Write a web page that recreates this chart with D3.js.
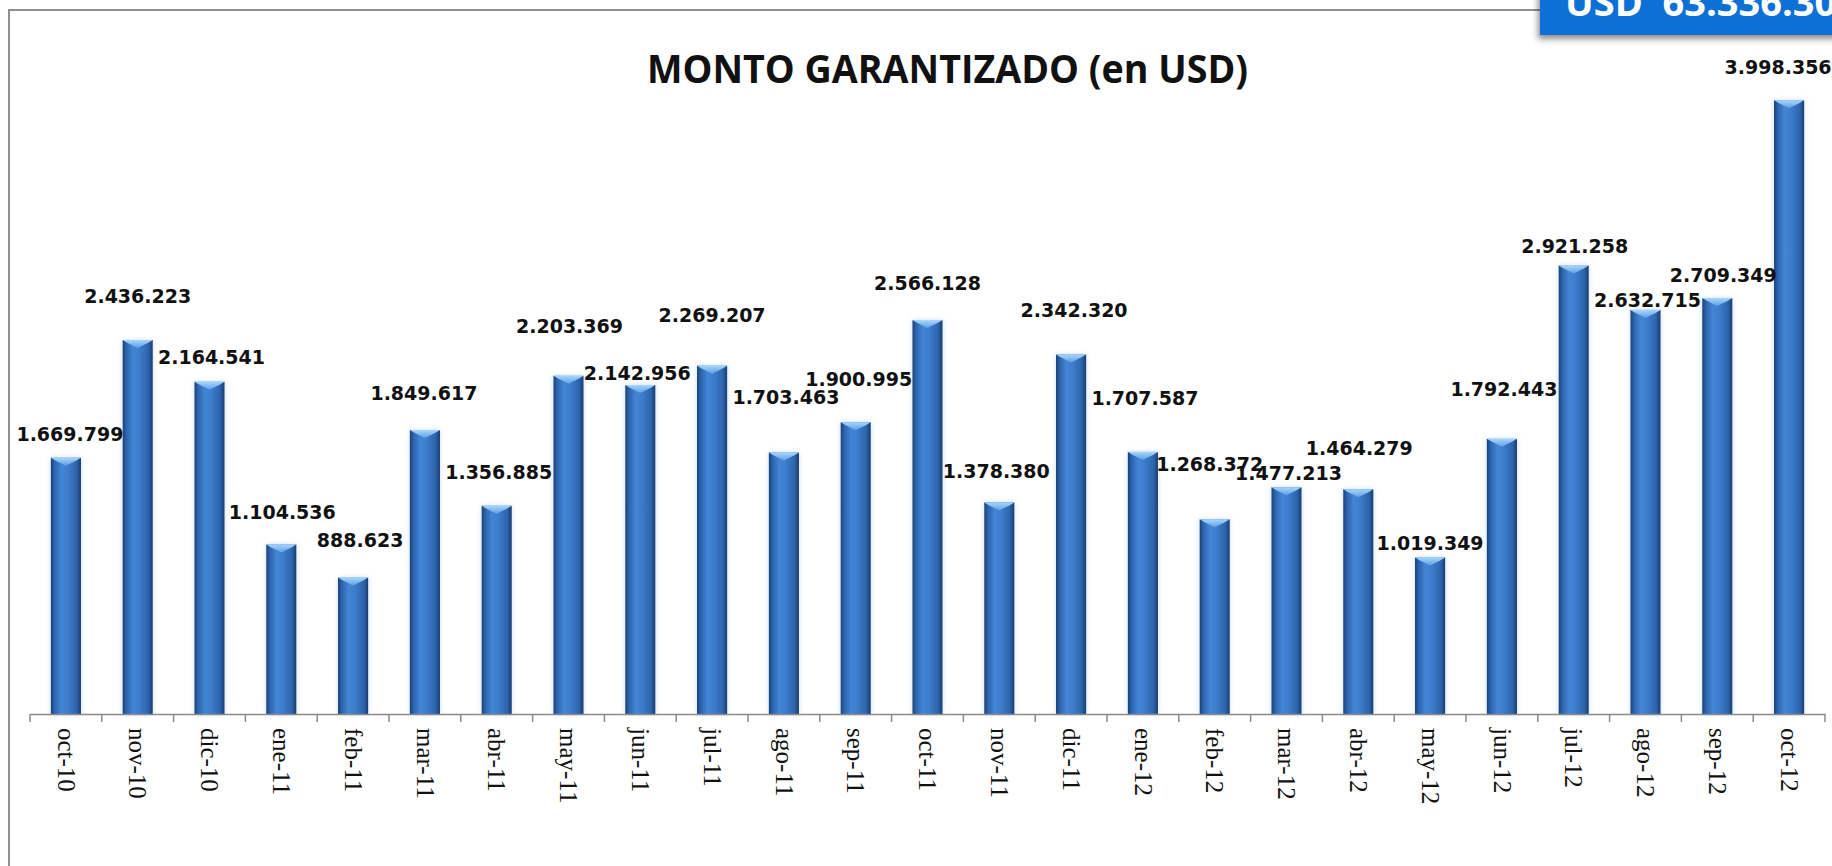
<!DOCTYPE html>
<html>
<head>
<meta charset="utf-8">
<script src="https://cdn.jsdelivr.net/npm/d3@7"></script>
<style>
  html, body { margin: 0; padding: 0; background: #fff; overflow: hidden; }
  svg { display: block; }
</style>
</head>
<body>
<figure id="bars" style="margin:0"></figure>
<script>
// months shown on the x axis
const months = ["oct-10", "nov-10", "dic-10", "ene-11", "feb-11", "mar-11", "abr-11", "may-11",
  "jun-11", "jul-11", "ago-11", "sep-11", "oct-11", "nov-11", "dic-11", "ene-12", "feb-12",
  "mar-12", "abr-12", "may-12", "jun-12", "jul-12", "ago-12", "sep-12", "oct-12"];

// guaranteed amount per month (USD)
const amounts = [1669799, 2436223, 2164541, 1104536, 888623, 1849617, 1356885, 2203369,
  2142956, 2269207, 1703463, 1900995, 2566128, 1378380, 2342320, 1707587, 1268372,
  1477213, 1464279, 1019349, 1792443, 2921258, 2632715, 2709349, 3998356];

// labels are hand placed in the original, offsets from the bar top (px)
const labelDx = [4, 0, 2, 1, 7, -1, 2, 1, -3, 0, 2, 3, 0, -3, 3, 2, -5, 2, 1, 0, 2, 1, 2, 6, -11];
const labelDy = [-24, -44, -25, -32, -37, -37, -34, -50, -12, -51, -55, -43, -37, -31, -44, -54,
  -55, -14, -41, -14, -50, -19, -10, -23, -33];

const title = "MONTO GARANTIZADO (en USD)";
const totalText = "USD  63.336.30";

const W = 1832, H = 866;
const baseY = 714;

const svg = d3.select("figure#bars")
  .append("svg")
  .attr("width", W)
  .attr("height", H);

const defs = svg.append("defs");
const grad = defs.append("linearGradient").attr("id", "barGrad")
  .attr("x1", "0%").attr("x2", "100%").attr("y1", "0%").attr("y2", "0%");
[["0%", "#1c3f72"], ["12%", "#2c63ad"], ["35%", "#4386d6"], ["55%", "#3d7dcc"],
 ["85%", "#2d64ad"], ["100%", "#1b3c6c"]].forEach(s => {
  grad.append("stop").attr("offset", s[0]).attr("stop-color", s[1]);
});
const capGrad = defs.append("linearGradient").attr("id", "capGrad")
  .attr("x1", "0%").attr("x2", "0%").attr("y1", "0%").attr("y2", "100%");
capGrad.append("stop").attr("offset", "0%").attr("stop-color", "#a9d6fb");
capGrad.append("stop").attr("offset", "100%").attr("stop-color", "#5d9fe6");

const glow = defs.append("filter").attr("id", "glow")
  .attr("x", "-30%").attr("y", "-10%").attr("width", "160%").attr("height", "120%");
glow.append("feGaussianBlur").attr("in", "SourceAlpha").attr("stdDeviation", 2.5).attr("result", "b");
glow.append("feFlood").attr("flood-color", "#9cc8f0").attr("flood-opacity", 0.6);
glow.append("feComposite").attr("in2", "b").attr("operator", "in").attr("result", "g");
const mg = glow.append("feMerge");
mg.append("feMergeNode").attr("in", "g");
mg.append("feMergeNode").attr("in", "SourceGraphic");

const shadow = defs.append("filter").attr("id", "boxShadow")
  .attr("x", "-10%").attr("y", "-20%").attr("width", "130%").attr("height", "180%");
shadow.append("feDropShadow").attr("dx", -2).attr("dy", 4).attr("stdDeviation", 3)
  .attr("flood-color", "#000").attr("flood-opacity", 0.45);

// chart frame (left and top edges visible)
svg.append("path")
  .attr("d", "M9,866 L9,10 L1540,10")
  .attr("fill", "none")
  .attr("stroke", "#8f8f8f")
  .attr("stroke-width", 2);

// scales
const x = d3.scaleBand()
  .domain(months)
  .range([30, 1825])
  .padding(0);

const y = d3.scaleLinear()
  .domain([0, 4000000])
  .range([baseY, 100]);

const barW = x.bandwidth() * 0.42;
const cx = d => x(d) + x.bandwidth() / 2;

// bars
const bars = svg.append("g");
bars.selectAll("rect")
  .data(months)
  .enter()
  .append("rect")
  .attr("x", d => cx(d) - barW / 2)
  .attr("y", (d, i) => y(amounts[i]))
  .attr("width", barW)
  .attr("height", (d, i) => baseY - y(amounts[i]))
  .attr("fill", "url(#barGrad)")
  .attr("filter", "url(#glow)");

// light bevel on top of each bar
bars.selectAll("path.cap")
  .data(months)
  .enter()
  .append("path")
  .attr("class", "cap")
  .attr("d", (d, i) => {
    const t = y(amounts[i]), l = cx(d) - barW / 2, r = cx(d) + barW / 2;
    return `M${l},${t} L${r},${t} L${r - 5},${t + 3} L${cx(d)},${t + 8} L${l + 5},${t + 3} Z`;
  })
  .attr("fill", "url(#capGrad)");

// x axis
const axis = svg.append("g")
  .attr("transform", "translate(0," + baseY + ")")
  .call(d3.axisBottom(x).tickSize(0).tickFormat(""));
axis.select(".domain").attr("stroke", "#8a8a8a").attr("stroke-width", 1.5);

const bounds = months.map(m => x(m)).concat([x.range()[1]]);
axis.selectAll("line.sep")
  .data(bounds)
  .enter()
  .append("line")
  .attr("class", "sep")
  .attr("x1", d => d).attr("x2", d => d)
  .attr("y1", 0).attr("y2", 8)
  .attr("stroke", "#8a8a8a")
  .attr("stroke-width", 1.5);

svg.append("g").selectAll("text")
  .data(months)
  .enter()
  .append("text")
  .attr("transform", d => `translate(${cx(d)},728) rotate(90)`)
  .attr("dy", "0.33em")
  .attr("text-anchor", "start")
  .style("font-family", "'Liberation Serif', 'DejaVu Serif', serif")
  .style("font-size", "25px")
  .style("fill", "#111")
  .text(d => d);

// value labels
svg.append("g").selectAll("text")
  .data(months)
  .enter()
  .append("text")
  .attr("x", (d, i) => cx(d) + labelDx[i])
  .attr("y", (d, i) => y(amounts[i]) + labelDy[i])
  .attr("dy", "0.36em")
  .attr("text-anchor", "middle")
  .style("font-family", "'DejaVu Sans', sans-serif")
  .style("font-weight", "bold")
  .style("font-size", "19px")
  .style("fill", "#111")
  .text((d, i) => d3.format(",")(amounts[i]).replace(/,/g, "."));

// title
svg.append("text")
  .attr("x", 647)
  .attr("y", 83)
  .attr("textLength", 601)
  .attr("lengthAdjust", "spacingAndGlyphs")
  .style("font-family", "'Open Sans', sans-serif")
  .style("font-weight", "bold")
  .style("font-size", "39px")
  .style("fill", "#111")
  .text(title);

// total box, top right
svg.append("rect")
  .attr("x", 1540)
  .attr("y", -10)
  .attr("width", 320)
  .attr("height", 45)
  .attr("fill", "#0a6fd6")
  .attr("filter", "url(#boxShadow)");

svg.append("text")
  .attr("x", 1565)
  .attr("y", 16)
  .style("font-family", "'Open Sans', sans-serif")
  .style("font-weight", "bold")
  .style("font-size", "38px")
  .style("fill", "#fff")
  .attr("xml:space", "preserve")
  .style("white-space", "pre")
  .text(totalText);
</script>
</body>
</html>
